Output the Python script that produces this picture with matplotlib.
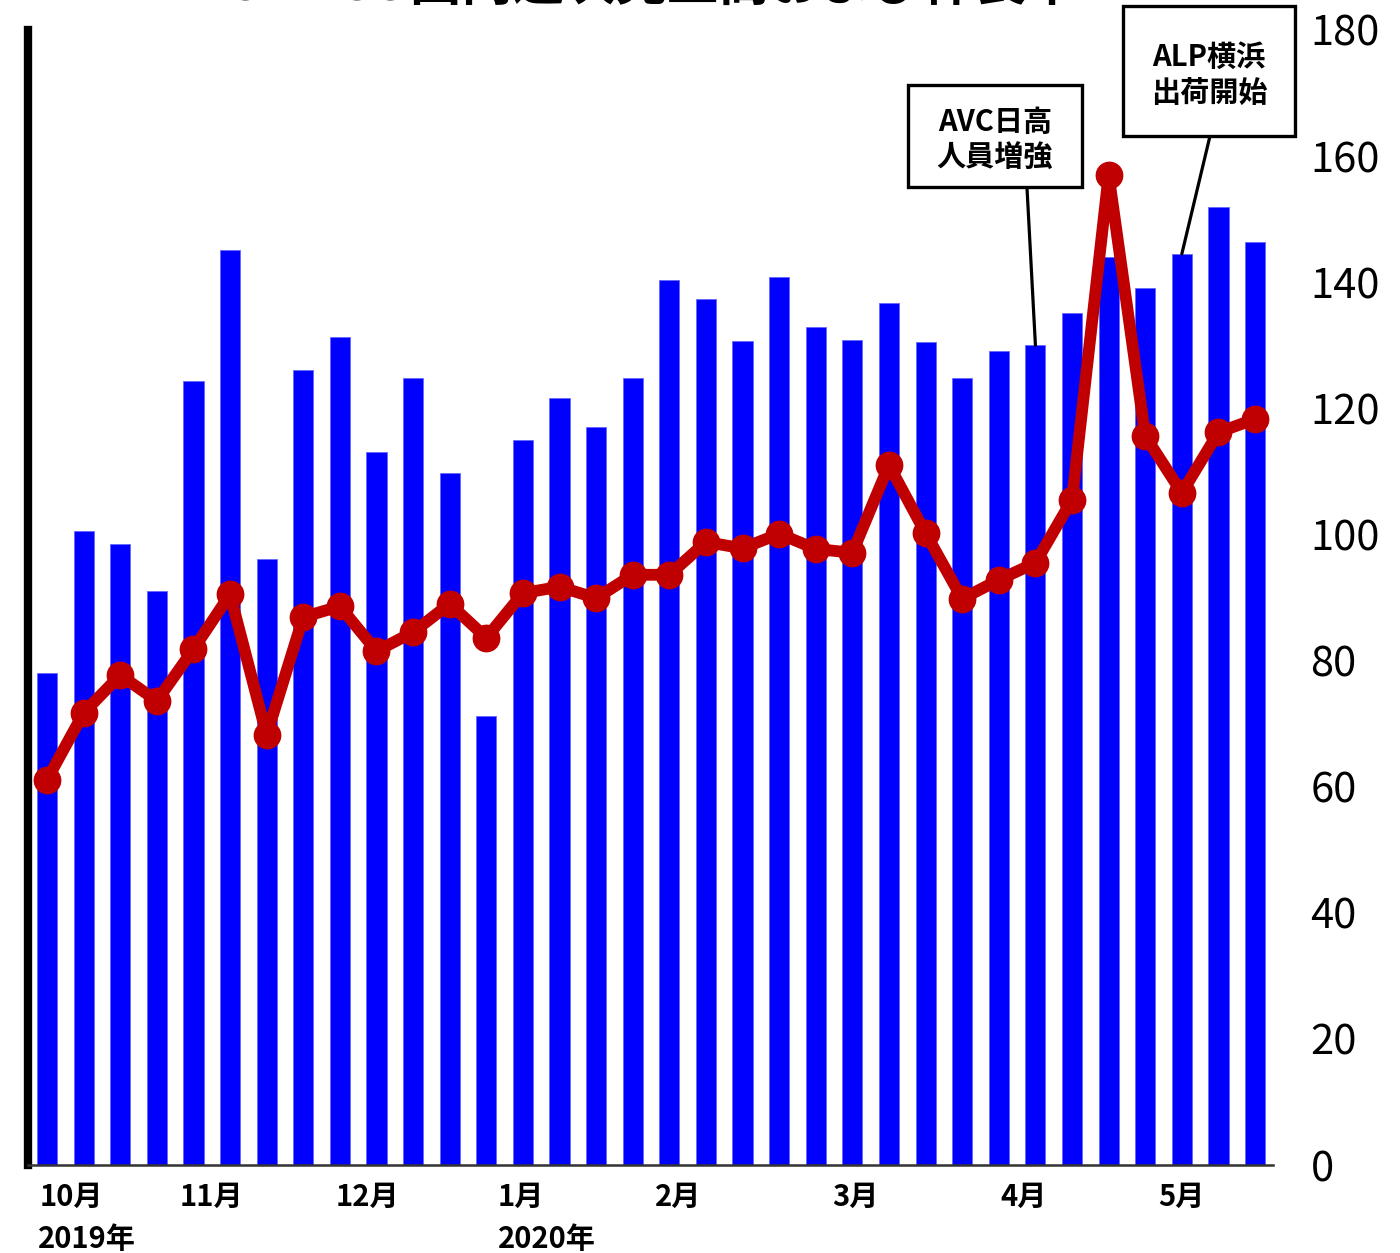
import numpy as np
import matplotlib
matplotlib.use('Agg')
import matplotlib.pyplot as plt
import matplotlib.transforms as mtransforms
from matplotlib.patches import Rectangle

plt.rcParams['font.family'] = ['Noto Sans CJK JP', 'DejaVu Sans']

# 週次売上高（棒）と伸長率（折れ線）
sales = [78.0, 100.5, 98.5, 91.0, 124.3, 145.1, 96.1, 126.1, 131.3, 113.1,
         124.8, 109.7, 71.2, 115.0, 121.6, 117.0, 124.8, 140.3, 137.3, 130.7,
         140.8, 132.9, 130.8, 136.7, 130.5, 124.8, 129.1, 130.0, 135.1, 144.0,
         139.1, 144.5, 151.9, 146.4]
growth = [61.1, 71.7, 77.7, 73.6, 81.8, 90.5, 68.2, 86.9, 88.6, 81.5,
          84.5, 89.0, 83.6, 90.7, 91.7, 89.9, 93.6, 93.6, 98.8, 97.8,
          100.1, 97.7, 97.1, 111.0, 100.2, 89.8, 92.8, 95.5, 105.5, 157.0,
          115.6, 106.6, 116.2, 118.3]
months = ['10月', '11月', '12月', '1月', '2月', '3月', '4月', '5月']
month_x = [-0.19, 3.63, 7.87, 12.32, 16.6, 21.45, 26.04, 30.35]
years = ['2019年', '2020年']
year_x = [-0.25, 12.32]
yticks = [0, 20, 40, 60, 80, 100, 120, 140, 160, 180]

W, H = 1400, 1253
fig = plt.figure(figsize=(W / 100, H / 100), dpi=100)
ax = fig.add_axes([28 / W, 88 / H, 1245 / W, 1135 / H])

x = np.arange(len(sales))
ax.bar(x, sales, width=0.55, color='#0000ff', edgecolor='#6666ff', linewidth=0.6, zorder=2)
ax.plot(x, growth, color='#c00000', lw=8.5, marker='o', markersize=19,
        markerfacecolor='#c00000', markeredgecolor='#c00000', zorder=3)

ax.set_xlim(-0.52, 33.49)
ax.set_ylim(0, 180)
ax.set_xticks([])
ax.yaxis.tick_right()
ax.set_yticks(yticks)
ax.tick_params(axis='y', length=0, pad=27, labelsize=30)
for lab in ax.get_yticklabels():
    lab.set_horizontalalignment('left')

for s in ['top', 'right']:
    ax.spines[s].set_visible(False)
ax.spines['left'].set_linewidth(6)
ax.spines['left'].set_color('black')
ax.spines['bottom'].set_linewidth(1.8)
ax.spines['bottom'].set_color('#333333')

trans = mtransforms.blended_transform_factory(ax.transData, ax.transAxes)
for m, mx in zip(months, month_x):
    ax.text(mx, -0.015, m, transform=trans, ha='left', va='top', fontsize=21, fontweight='bold')
for yr, yx in zip(years, year_x):
    ax.text(yx, -0.052, yr, transform=trans, ha='left', va='top', fontsize=21, fontweight='bold')

# タイトル（上端で切れている）
fig.text(637 / W, 1 - 11 / H, 'LOHACO国内週次売上高および伸長率', ha='center', va='bottom',
         fontsize=37, fontweight='bold')


# 注記の枠（図のピクセル座標：左, 上, 右, 下）
def note(l, t, r, b, text, dy=0):
    fig.patches.append(Rectangle((l / W, 1 - b / H), (r - l) / W, (b - t) / H,
                                 transform=fig.transFigure, facecolor='white',
                                 edgecolor='black', linewidth=2.4, zorder=5))
    fig.text((l + r) / 2 / W, 1 - ((t + b) / 2 + dy) / H, text, ha='center', va='center',
             fontsize=21, fontweight='bold', linespacing=1.25, zorder=6)


note(908, 85, 1082, 187, 'AVC日高\n人員増強', dy=4)
note(1123, 6, 1295, 136, 'ALP横浜\n出荷開始', dy=4)
ax.annotate('', xy=(27, sales[27]), xycoords='data', xytext=(1027, H - 188),
            textcoords='figure pixels', arrowprops=dict(arrowstyle='-', lw=2.3, color='black',
                                                        shrinkA=0, shrinkB=0))
ax.annotate('', xy=(31, sales[31]), xycoords='data', xytext=(1210, H - 136),
            textcoords='figure pixels', arrowprops=dict(arrowstyle='-', lw=2.3, color='black',
                                                        shrinkA=0, shrinkB=0))

fig.savefig('out.png', dpi=100)
